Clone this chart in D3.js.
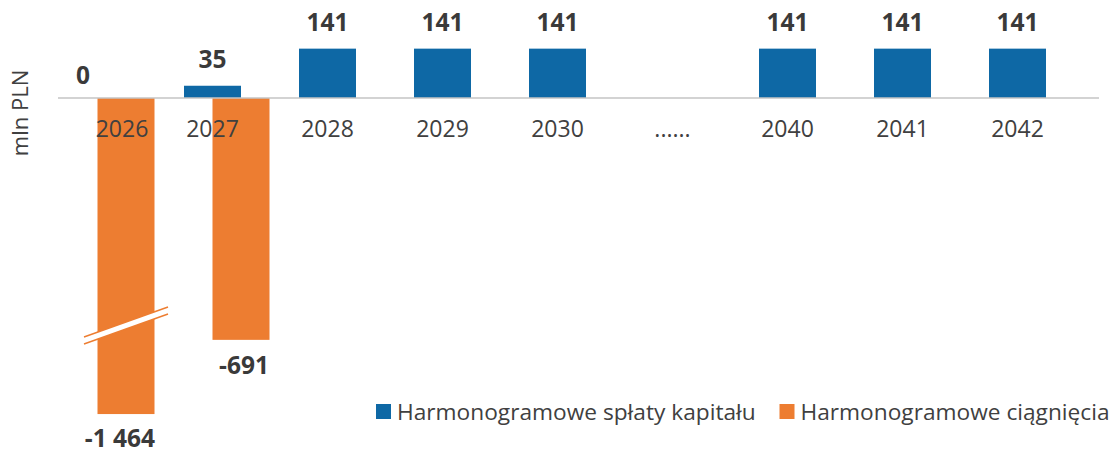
<!DOCTYPE html>
<html>
<head>
<meta charset="utf-8">
<script src="https://cdn.jsdelivr.net/npm/d3@7"></script>
<style>
  html, body { margin: 0; padding: 0; background: #fff; }
  svg { display: block; }
  text { font-family: "Open Sans", "Noto Sans", sans-serif; }
</style>
</head>
<body>
<svg id="chart" width="1112" height="453"></svg>
<script>
// ---- data ----
const categories = ["2026", "2027", "2028", "2029", "2030", "......", "2040", "2041", "2042"];
const repayments = [0, 35, 141, 141, 141, null, 141, 141, 141];      // Harmonogramowe spłaty kapitału
const drawdowns  = [-1464, -691, null, null, null, null, null, null, null]; // Harmonogramowe ciągnięcia
const seriesNames = ["Harmonogramowe spłaty kapitału", "Harmonogramowe ciągnięcia"];
const yAxisTitle = "mln PLN";

// ---- layout / style ----
const colors = { rep: "#0e68a5", draw: "#ed7d31" };
const textColor = "#404040";
const barW = 57;
const axisBreakMin = -903;   // visible bottom of the value axis (2026 bar is broken)
const breakAt = -650;        // where the break mark sits on the 2026 bar

const svg = d3.select("#chart");

const x = d3.scaleBand()
  .domain(categories)
  .range([54.25, 1089.25])
  .paddingInner(0.2565)
  .paddingOuter(0.2565 / 2);

const xs = d3.scalePoint()
  .domain(["rep", "draw"])
  .range([0, x.bandwidth() - barW]);

const y = d3.scaleLinear()
  .domain([axisBreakMin, 160])
  .range([98 + 903 * 0.35, 98 - 160 * 0.35]);

const rows = categories.map((c, i) => ({ cat: c, rep: repayments[i], draw: drawdowns[i] }));

// manual label nudges (layout only)
const repLabelNudge = { "2026": { dx: -14.5, dy: 4 } };
const drawLabelNudge = { "2026": { dx: -6, dy: -1 }, "2027": { dx: 3, dy: 0 } };
const tickNudge = { "2026": 24.5 };

// ---- bars ----
const gBars = svg.append("g");
gBars.selectAll("rect.rep")
  .data(rows.filter(d => d.rep !== null && d.rep !== 0))
  .join("rect")
  .attr("class", "rep")
  .attr("x", d => x(d.cat) + xs("rep"))
  .attr("width", barW)
  .attr("y", d => y(d.rep))
  .attr("height", d => y(0) - y(d.rep))
  .attr("fill", colors.rep);

gBars.selectAll("rect.draw")
  .data(rows.filter(d => d.draw !== null))
  .join("rect")
  .attr("class", "draw")
  .attr("x", d => x(d.cat) + xs("draw"))
  .attr("width", barW)
  .attr("y", y(0))
  .attr("height", d => y(Math.max(d.draw, axisBreakMin)) - y(0))
  .attr("fill", colors.draw);

// ---- axis line ----
svg.append("line")
  .attr("x1", 58).attr("x2", 1099)
  .attr("y1", y(0)).attr("y2", y(0))
  .attr("stroke", "#c4c4c4")
  .attr("stroke-width", 1.3);

// ---- break mark on broken bars ----
rows.filter(d => d.draw !== null && d.draw < axisBreakMin).forEach(d => {
  const cx = x(d.cat) + xs("draw") + barW / 2;
  const cy = y(breakAt);
  const half = 42, slope = -0.357, gap = 7;
  const x1 = cx - half, x2 = cx + half;
  const yA1 = cy - gap / 2 - slope * half, yA2 = cy - gap / 2 + slope * half;
  const yB1 = yA1 + gap, yB2 = yA2 + gap;
  svg.append("path")
    .attr("d", `M${x1},${yA1}L${x2},${yA2}L${x2},${yB2}L${x1},${yB1}Z`)
    .attr("fill", "#fff");
  [[yA1, yA2], [yB1, yB2]].forEach(([a, b]) => {
    svg.append("line")
      .attr("x1", x1).attr("y1", a).attr("x2", x2).attr("y2", b)
      .attr("stroke", colors.draw).attr("stroke-width", 1.4);
  });
});

// ---- category labels (axis) ----
const xAxis = d3.axisBottom(x).tickSize(0).tickPadding(0);
const gx = svg.append("g")
  .attr("transform", `translate(${xs("rep") + barW / 2 - x.bandwidth() / 2},0)`)
  .call(xAxis);
gx.select(".domain").remove();
gx.selectAll(".tick text")
  .attr("y", 136.5)
  .attr("dy", null)
  .attr("x", d => tickNudge[d] || 0)
  .attr("fill", textColor)
  .style("font-size", "23px")
  .style("font-family", '"Open Sans", sans-serif');

// ---- value labels ----
const fmt = v => {
  const s = d3.format(",")(Math.abs(v)).replace(/,/g, " ");
  return (v < 0 ? "-" : "") + s;
};

svg.append("g").selectAll("text")
  .data(rows.filter(d => d.rep !== null))
  .join("text")
  .attr("x", d => x(d.cat) + xs("rep") + barW / 2 + ((repLabelNudge[d.cat] || {}).dx || 0))
  .attr("y", d => y(d.rep) - 18 + ((repLabelNudge[d.cat] || {}).dy || 0))
  .attr("text-anchor", "middle")
  .attr("fill", "#3a3a3a")
  .style("font-size", "24.5px")
  .style("font-weight", "bold")
  .text(d => fmt(d.rep));

svg.append("g").selectAll("text")
  .data(rows.filter(d => d.draw !== null))
  .join("text")
  .attr("x", d => x(d.cat) + xs("draw") + barW / 2 + ((drawLabelNudge[d.cat] || {}).dx || 0))
  .attr("y", d => y(Math.max(d.draw, axisBreakMin)) + 34 + ((drawLabelNudge[d.cat] || {}).dy || 0))
  .attr("text-anchor", "middle")
  .attr("fill", "#3a3a3a")
  .style("font-size", "24.5px")
  .style("font-weight", "bold")
  .text(d => fmt(d.draw));

// ---- y axis title ----
svg.append("text")
  .attr("transform", "translate(28,113) rotate(-90)")
  .attr("text-anchor", "middle")
  .attr("fill", textColor)
  .style("font-size", "22px")
  .text(yAxisTitle);

// ---- legend ----
const legendItems = [
  { name: seriesNames[0], color: colors.rep, x: 376 },
  { name: seriesNames[1], color: colors.draw, x: 779.5 }
];
const gl = svg.append("g");
legendItems.forEach(it => {
  gl.append("rect")
    .attr("x", it.x).attr("y", 404)
    .attr("width", 15).attr("height", 15)
    .attr("fill", it.color);
  gl.append("text")
    .attr("x", it.x + 21).attr("y", 419.5)
    .attr("fill", textColor)
    .style("font-size", "22.7px")
    .text(it.name);
});
</script>
</body>
</html>
